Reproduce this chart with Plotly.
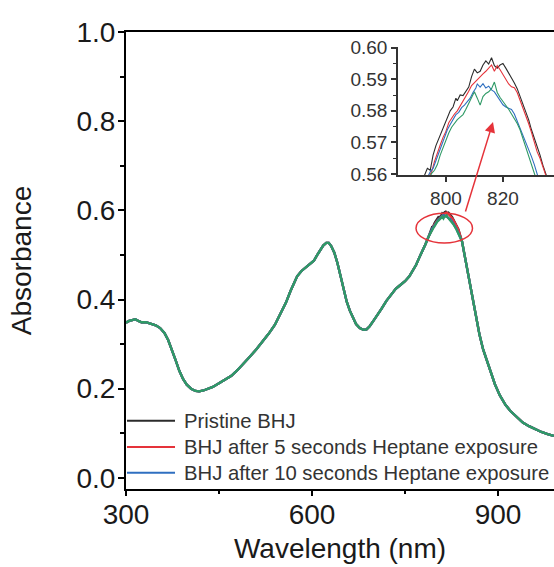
import plotly.graph_objects as go

# ---------------- data ----------------
# shared part of the spectrum (all four curves coincide here)
wl_left = [300, 305, 310, 315, 320, 325, 332, 340, 348, 355, 362, 368, 374, 380, 386, 392, 398,
           405, 412, 418, 425, 432, 440, 450, 460, 470, 480, 490, 500, 510, 520, 530, 540, 550,
           558, 565, 570, 576, 583, 590, 597, 603, 608, 613, 618, 623, 627, 631, 636, 641, 646,
           651, 656, 661, 666, 671, 677, 683, 688, 693, 699, 705, 712, 720, 728, 735, 742, 750,
           757, 763, 768, 773, 778, 783, 788]
abs_left = [0.348, 0.352, 0.354, 0.356, 0.352, 0.349, 0.349, 0.345, 0.342, 0.336, 0.325, 0.309,
            0.288, 0.264, 0.240, 0.222, 0.209, 0.200, 0.195, 0.194, 0.196, 0.199, 0.204, 0.212,
            0.220, 0.229, 0.242, 0.256, 0.272, 0.288, 0.305, 0.323, 0.343, 0.369, 0.393, 0.418,
            0.435, 0.452, 0.464, 0.472, 0.478, 0.487, 0.499, 0.511, 0.521, 0.527, 0.527, 0.520,
            0.505, 0.482, 0.452, 0.420, 0.395, 0.375, 0.358, 0.345, 0.336, 0.332, 0.333, 0.340,
            0.352, 0.364, 0.379, 0.397, 0.412, 0.424, 0.432, 0.441, 0.452, 0.465, 0.478, 0.494,
            0.508, 0.524, 0.541]
wl_right = [842, 847, 852, 858, 864, 870, 876, 882, 888, 895, 903, 912, 920, 930, 940, 950, 960,
            970, 980, 990]
abs_right = [0.530, 0.494, 0.455, 0.410, 0.365, 0.322, 0.288, 0.262, 0.236, 0.210, 0.185, 0.164,
             0.150, 0.136, 0.124, 0.116, 0.109, 0.103, 0.098, 0.094]

# peak region, where the four curves separate (inset)
wl_pk_pristine = [792, 793.5, 794.5, 795.5, 796.5, 797.5, 798.5, 799.5, 800.5, 801.5, 802.5, 803.5,
                  804, 805, 806, 807, 808, 809, 810, 811, 812, 813, 814, 815, 816, 817, 818, 819,
                  820, 821, 822, 823, 824, 825, 826, 827, 828, 829, 830, 831, 832, 833, 834, 835, 836]
abs_pk_pristine = [0.5585, 0.5618, 0.5612, 0.5660, 0.5690, 0.5712, 0.5735, 0.5760, 0.5782, 0.5800,
                   0.5812, 0.5840, 0.5832, 0.5850, 0.5848, 0.5862, 0.5875, 0.5908, 0.5932, 0.5920,
                   0.5925, 0.5945, 0.5958, 0.5948, 0.5968, 0.5943, 0.5935, 0.5945, 0.5950, 0.5935,
                   0.5920, 0.5905, 0.5888, 0.5870, 0.5845, 0.5820, 0.5795, 0.5772, 0.5740, 0.5715,
                   0.5685, 0.5660, 0.5628, 0.5600, 0.5575]

wl_pk_5s = [793, 795, 796, 797, 798, 799, 800, 801, 802, 803, 804, 805, 806, 807, 808, 809, 810,
            811, 812, 813, 814, 815, 816, 817, 818, 819, 820, 821, 822, 823, 824, 825, 826, 827,
            828, 829, 830, 831, 832, 833, 834, 835, 836]
abs_pk_5s = [0.5575, 0.5607, 0.5640, 0.5668, 0.5692, 0.5716, 0.5735, 0.5762, 0.5778, 0.5790,
             0.5800, 0.5815, 0.5829, 0.5845, 0.5862, 0.5880, 0.5890, 0.5900, 0.5908, 0.5917,
             0.5925, 0.5935, 0.5945, 0.5925, 0.5943, 0.5930, 0.5915, 0.5898, 0.5885, 0.5876,
             0.5873, 0.5858, 0.5835, 0.5810, 0.5785, 0.5760, 0.5732, 0.5700, 0.5670, 0.5650,
             0.5620, 0.5595, 0.5570]

wl_pk_10s = [793, 794.5, 795.5, 796.5, 797.5, 798.5, 799.5, 800.5, 801.5, 802.5, 803.5, 804.5,
             805.5, 806.5, 807.5, 808.5, 809.5, 810.5, 811, 812, 813, 814, 815, 816, 817, 818,
             819, 820, 821, 822, 823, 824, 825, 826, 827, 828, 829, 830, 831, 832, 833]
abs_pk_10s = [0.5580, 0.5607, 0.5618, 0.5643, 0.5668, 0.5690, 0.5712, 0.5740, 0.5757, 0.5772,
              0.5788, 0.5795, 0.5810, 0.5818, 0.5830, 0.5840, 0.5858, 0.5872, 0.5885, 0.5875,
              0.5886, 0.5872, 0.5878, 0.5866, 0.5860, 0.5845, 0.5830, 0.5819, 0.5812, 0.5808,
              0.5804, 0.5790, 0.5768, 0.5748, 0.5726, 0.5702, 0.5680, 0.5655, 0.5630, 0.5605,
              0.5580]

wl_pk_green = [794, 795, 796, 797, 798, 799, 800, 801, 802, 803, 804, 805, 806, 807, 808, 809, 810,
               811, 812, 813, 814, 815, 816, 817, 818, 819, 820, 821, 822, 823, 824, 825, 826, 827,
               828, 829, 830, 831, 832, 833]
abs_pk_green = [0.5585, 0.5602, 0.5612, 0.5630, 0.5660, 0.5685, 0.5705, 0.5730, 0.5748, 0.5760,
                0.5772, 0.5780, 0.5788, 0.5805, 0.5825, 0.5842, 0.5860, 0.5840, 0.5818, 0.5845,
                0.5855, 0.5860, 0.5870, 0.5891, 0.5858, 0.5842, 0.5830, 0.5815, 0.5805, 0.5790,
                0.5775, 0.5760, 0.5740, 0.5716, 0.5690, 0.5665, 0.5640, 0.5618, 0.5595, 0.5570]

series_names = ["Pristine BHJ",
                "BHJ after 5 seconds Heptane exposure",
                "BHJ after 10 seconds Heptane exposure",
                ""]
series_colors = ["#2b2b2b", "#e5333a", "#2f6fc0", "#2f9a66"]
peak_wl = [wl_pk_pristine, wl_pk_5s, wl_pk_10s, wl_pk_green]
peak_abs = [abs_pk_pristine, abs_pk_5s, abs_pk_10s, abs_pk_green]

x_ticks = [300, 600, 900]
y_ticks = [0.0, 0.2, 0.4, 0.6, 0.8, 1.0]
inset_x_ticks = [800, 820]
inset_y_ticks = [0.56, 0.57, 0.58, 0.59, 0.60]

FONT = "Liberation Sans, Arial, sans-serif"

fig = go.Figure()
for name, col, pw, pa in zip(series_names, series_colors, peak_wl, peak_abs):
    wl = wl_left + pw + wl_right
    ab = abs_left + pa + abs_right
    fig.add_trace(go.Scatter(x=wl, y=ab, mode="lines", name=name, showlegend=False,
                             line=dict(color=col, width=2.3), xaxis="x", yaxis="y",
                             hoverinfo="skip"))
for name, col, pw, pa in zip(series_names, series_colors, peak_wl, peak_abs):
    wl = wl_left + pw + wl_right
    ab = abs_left + pa + abs_right
    fig.add_trace(go.Scatter(x=wl, y=ab, mode="lines", name=name, showlegend=False,
                             line=dict(color=col, width=1.1), xaxis="x2", yaxis="y2",
                             hoverinfo="skip"))

axis_common = dict(showgrid=False, zeroline=False, showline=True, linecolor="black",
                   ticks="outside", tickcolor="black")

fig.update_layout(
    width=554, height=567,
    margin=dict(l=126, r=0, t=32, b=78),
    paper_bgcolor="white", plot_bgcolor="white",
    font=dict(family=FONT, color="#1a1a1a"),
    showlegend=False,
    xaxis=dict(axis_common, domain=[0, 1], range=[300, 990.3], tickvals=x_ticks,
               linewidth=2, tickwidth=2, ticklen=5, mirror=True, ticklabelstandoff=-6,
               tickfont=dict(size=28, family=FONT, color="#1a1a1a"),
               minor=dict(tickvals=[450, 750], ticks="outside", ticklen=3, tickwidth=2,
                          tickcolor="black"),
               title=dict(text="Wavelength (nm)", font=dict(size=28, family=FONT, color="#1a1a1a"),
                          standoff=10),
               automargin=False),
    yaxis=dict(axis_common, domain=[0, 1], range=[-0.025, 1.0], tickvals=y_ticks,
               tickformat=".1f", linewidth=2, tickwidth=2, ticklen=6, mirror=False,
               ticklabelstandoff=-3,
               tickfont=dict(size=28, family=FONT, color="#1a1a1a"),
               minor=dict(dtick=0.1, tick0=0, ticks="outside", ticklen=4, tickwidth=2,
                          tickcolor="black"),
               title=dict(text="Absorbance", font=dict(size=28, family=FONT, color="#1a1a1a"),
                          standoff=37),
               automargin=False),
    xaxis2=dict(axis_common, domain=[0.6355, 1.0], anchor="y2", range=[783.2, 837.9],
                tickvals=inset_x_ticks, linewidth=1.5, linecolor="#333333", tickwidth=1.5,
                tickcolor="#333333", ticklen=5,
                tickfont=dict(size=19, family=FONT, color="#333333")),
    yaxis2=dict(axis_common, domain=[0.6864, 0.968], anchor="x2", range=[0.5596, 0.6003],
                tickvals=inset_y_ticks, tickformat=".2f", linewidth=1.5, linecolor="#333333",
                tickwidth=1.5, tickcolor="#333333", ticklen=5,
                minor=dict(dtick=0.005, tick0=0.56, ticks="outside", ticklen=3, tickwidth=1.2,
                           tickcolor="#333333"),
                tickfont=dict(size=19, family=FONT, color="#333333")),
)

# red ellipse around the peak and arrow towards the inset
fig.add_shape(type="circle", xref="paper", yref="paper", x0=0.6776, x1=0.8096, y0=0.5383,
              y1=0.6033, line=dict(color="#e5333a", width=1.5))
fig.add_annotation(xref="paper", yref="paper", x=0.8575, y=0.8030, ax=-28, ay=91, text="",
                   showarrow=True, arrowhead=2, arrowsize=1.4, arrowwidth=1.5,
                   arrowcolor="#e5333a")

# legend (custom, to match the long line samples)
leg_y = [0.1494, 0.0919, 0.0357]
for name, col, yy in zip(series_names[:3], series_colors[:3], leg_y):
    fig.add_shape(type="line", xref="paper", yref="paper", x0=0.0023, x1=0.1145, y0=yy, y1=yy,
                  line=dict(color=col, width=2))
    fig.add_annotation(xref="paper", yref="paper", x=0.1308, y=yy, text=name, showarrow=False,
                       xanchor="left", yanchor="middle",
                       font=dict(size=20.3, family=FONT, color="#333333"))

fig.write_html("out.html", config={"displayModeBar": False},
               post_script="document.body.style.margin='0';document.body.style.overflow='hidden';")
